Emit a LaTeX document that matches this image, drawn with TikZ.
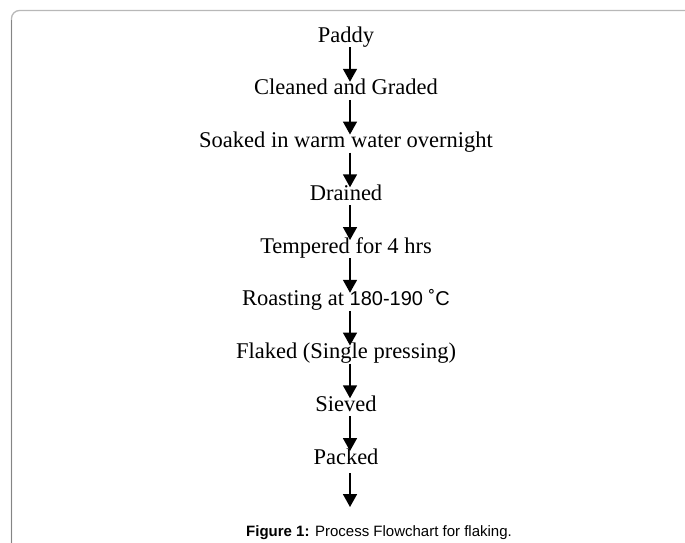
\documentclass[tikz,border=0pt]{standalone}
\usepackage{fontspec}
\setmainfont{Liberation Serif}
\newfontfamily\capfont{Liberation Sans}
\usetikzlibrary{arrows.meta}
\definecolor{frameL}{HTML}{858585}
\definecolor{frameT}{HTML}{B8B8B8}
\tikzset{
  stepnode/.style={anchor=base, inner sep=0pt, font=\fontsize{22.5}{27}\selectfont},
  flowarrow/.style={line width=1.7pt, -{Triangle[length=13pt,width=14pt]}},
}
\begin{document}
\begin{tikzpicture}[x=1pt,y=-1pt]
\useasboundingbox (0,0) rectangle (685,542);
\begin{scope}
\clip (0,0) rectangle (685,542);
\draw[frameT, line width=1.3pt, rounded corners=8pt] (11.5,600) -- (11.5,10.5) -- (693,10.5) -- (693,600);
\draw[frameL, line width=1.3pt] (11.5,20) -- (11.5,600);
\end{scope}
\coordinate (ax) at (350,0);
\node[stepnode] (s1) at (346,42) {Paddy};
\node[stepnode] (s2) at (346,94.75) {Cleaned and Graded};
\node[stepnode] (s3) at (346,147.5) {Soaked in warm water overnight};
\node[stepnode] (s4) at (346,200.25) {Drained};
\node[stepnode] (s5) at (346,253) {Tempered for 4 hrs};
\node[stepnode] (s6) at (346,305.75) {Roasting at {\capfont\fontsize{20}{24}\selectfont 180-190 ˚C}};
\node[stepnode] (s7) at (346,358.5) {Flaked (Single pressing)};
\node[stepnode] (s8) at (346,411.25) {Sieved};
\node[stepnode] (s9) at (346,464) {Packed};
\coordinate (end) at (350,507);
\foreach \a/\b in {s1/s2,s2/s3,s3/s4,s4/s5,s5/s6,s6/s7,s7/s8,s8/s9}{
  \draw[flowarrow] ([yshift=-5pt]\a.base -| ax) -- ([yshift=13pt]\b.base -| ax);
}
\draw[flowarrow] ([yshift=-9pt]s9.base -| ax) -- (end);
\node[anchor=base, inner sep=0pt, font=\capfont\fontsize{15}{18}\selectfont] (cap) at (379,536) {\textbf{Figure 1:} Process Flowchart for flaking.};
\end{tikzpicture}
\end{document}
